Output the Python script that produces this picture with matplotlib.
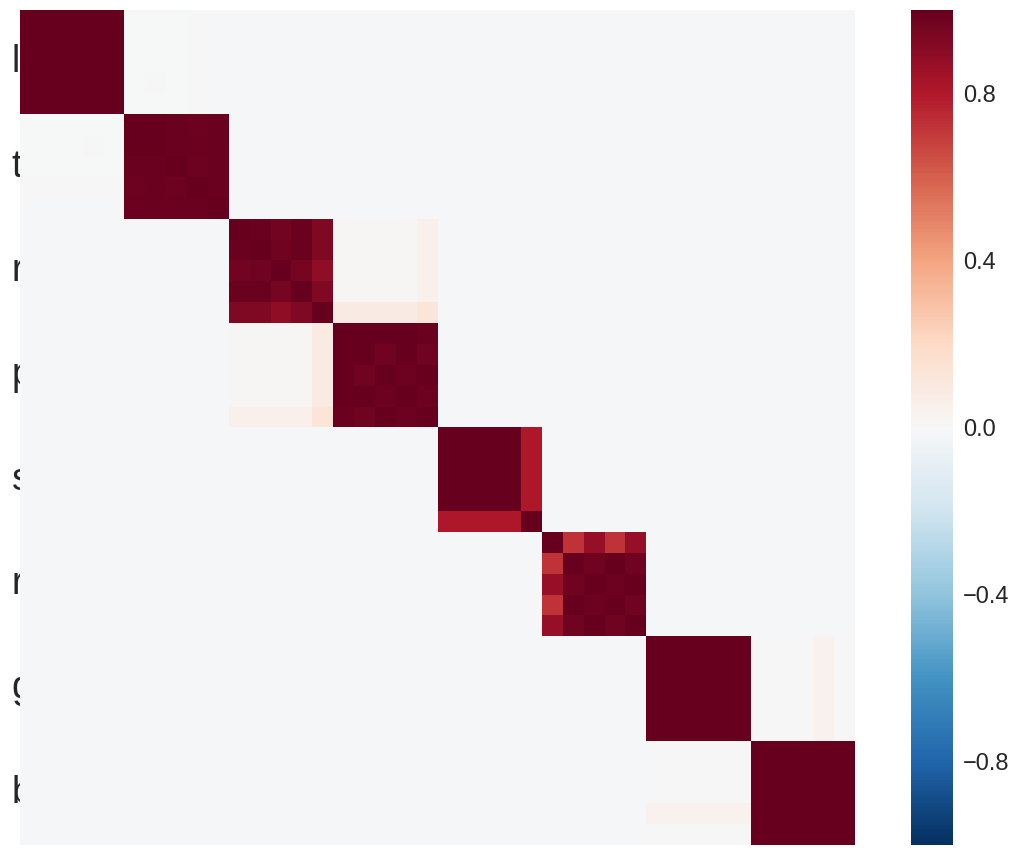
import numpy as np
import matplotlib
matplotlib.use("Agg")
import matplotlib.pyplot as plt
import matplotlib.transforms as mtransforms

plt.rcParams['font.family'] = ['Liberation Sans', 'DejaVu Sans']

# group labels (one per block of 5 variables)
labels = ["li", "t", "r", "p", "s", "r", "g", "b"]
block_size = 5
background = -0.01

# within-block correlations
block_1 = [[1, 1, 1, 1, 1]] * 5
block_2 = [[1.00, 0.995, 0.99, 0.98, 0.99],
           [0.995, 1.00, 0.985, 0.99, 0.99],
           [0.99, 0.985, 1.00, 0.98, 0.99],
           [0.98, 0.99, 0.98, 1.00, 0.985],
           [0.99, 0.99, 0.99, 0.985, 1.00]]
block_3 = [[1.00, 0.99, 0.965, 0.99, 0.93],
           [0.99, 1.00, 0.97, 0.99, 0.93],
           [0.965, 0.97, 1.00, 0.955, 0.89],
           [0.99, 0.99, 0.955, 1.00, 0.93],
           [0.93, 0.93, 0.89, 0.93, 1.00]]
block_4 = [[1.00, 0.995, 0.995, 0.995, 0.985],
           [0.995, 1.00, 0.975, 0.995, 0.975],
           [0.995, 0.975, 1.00, 0.98, 0.995],
           [0.995, 0.995, 0.98, 1.00, 0.98],
           [0.985, 0.975, 0.995, 0.98, 1.00]]
block_5 = [[1.00, 1.00, 1.00, 1.00, 0.81],
           [1.00, 1.00, 1.00, 1.00, 0.81],
           [1.00, 1.00, 1.00, 1.00, 0.81],
           [1.00, 1.00, 1.00, 1.00, 0.81],
           [0.81, 0.81, 0.81, 0.81, 1.00]]
block_6 = [[1.00, 0.72, 0.87, 0.72, 0.87],
           [0.72, 1.00, 0.975, 1.00, 0.975],
           [0.87, 0.975, 1.00, 0.98, 1.00],
           [0.72, 1.00, 0.98, 1.00, 0.975],
           [0.87, 0.975, 1.00, 0.975, 1.00]]
block_7 = [[1, 1, 1, 1, 1]] * 5
block_8 = [[1, 1, 1, 1, 1]] * 5
blocks = [block_1, block_2, block_3, block_4, block_5, block_6, block_7, block_8]

# small cross-block correlations: (row_from, row_to, col_from, col_to, value)
cross = [
    (0, 5, 5, 8, -0.005),
    (0, 5, 8, 9, 0.003),
    (3, 4, 6, 7, 0.004),
    (10, 14, 15, 19, 0.012),
    (10, 14, 19, 20, 0.05),
    (14, 15, 15, 19, 0.08),
    (14, 15, 19, 20, 0.13),
    (30, 35, 35, 38, 0.0),
    (30, 35, 38, 39, 0.04),
    (30, 35, 39, 40, 0.004),
]

n = block_size * len(blocks)
corr = np.full((n, n), background)
for i, b in enumerate(blocks):
    s = i * block_size
    corr[s:s + block_size, s:s + block_size] = np.array(b, dtype=float)
for r0, r1, c0, c1, v in cross:
    corr[r0:r1, c0:c1] = v
    corr[c0:c1, r0:r1] = v

fig = plt.figure(figsize=(10.22, 8.55), dpi=100)
W, H = 1022, 855
ax = fig.add_axes([20 / W, 10 / H, 835 / W, 835 / H])
mesh = ax.pcolormesh(corr, cmap='RdBu_r', vmin=-1, vmax=1)
ax.set_xlim(0, n)
ax.set_ylim(n, 0)
ax.set_axisbelow(True)
for sp in ax.spines.values():
    sp.set_visible(False)
ax.set_xticks([])
ax.set_yticks(np.arange(len(labels)) * block_size + block_size / 2)
ax.set_yticklabels(labels, ha='left', fontsize=27, color='#262626')
ax.tick_params(axis='y', length=0, pad=6)
# nudge labels up a little
shift = mtransforms.ScaledTranslation(0, 4 / 100, fig.dpi_scale_trans)
for lab in ax.get_yticklabels():
    lab.set_transform(lab.get_transform() + shift)

cax = fig.add_axes([911 / W, 10 / H, 42 / W, 835 / H])
cbar = fig.colorbar(mesh, cax=cax, ticks=[-0.8, -0.4, 0.0, 0.4, 0.8])
cbar.outline.set_visible(False)
cax.tick_params(length=0, pad=7, labelsize=17, labelcolor='#262626')

fig.savefig('out.png', dpi=100)
